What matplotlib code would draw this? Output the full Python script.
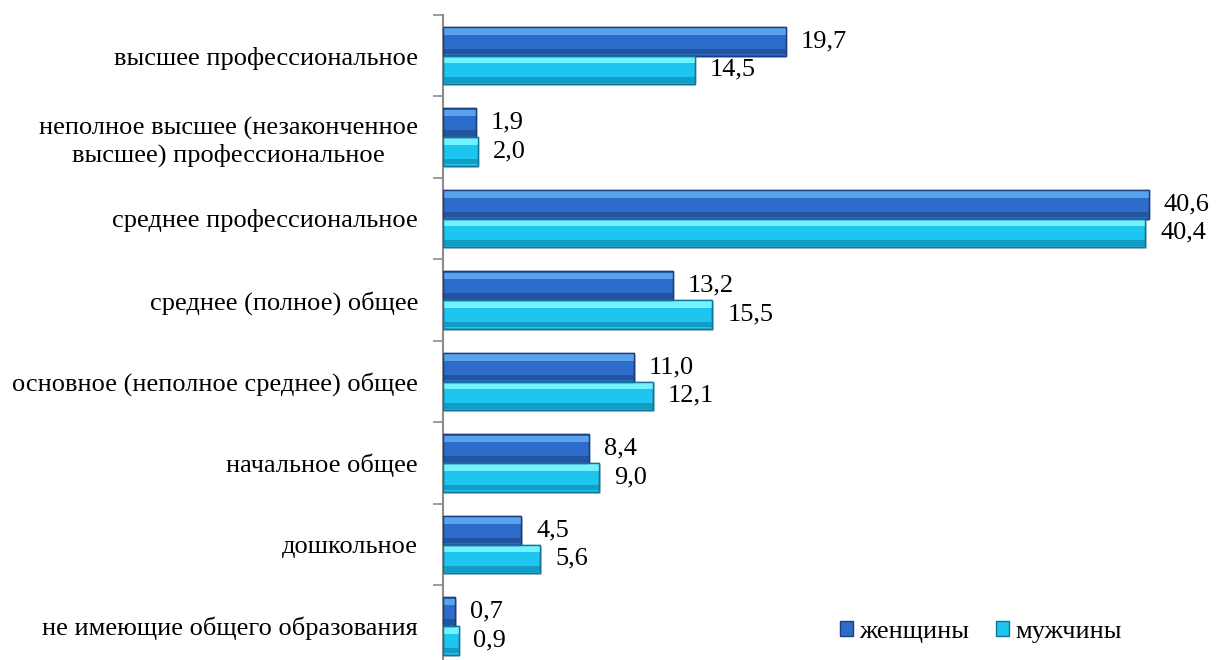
import matplotlib
matplotlib.use('Agg')
import matplotlib.pyplot as plt
from matplotlib.patches import Patch
import numpy as np

# Data
categories = [
    'высшее профессиональное',
    'неполное высшее (незаконченное\nвысшее) профессиональное',
    'среднее профессиональное',
    'среднее (полное) общее',
    'основное (неполное среднее) общее',
    'начальное общее',
    'дошкольное',
    'не имеющие общего образования',
]
women = [19.7, 1.9, 40.6, 13.2, 11.0, 8.4, 4.5, 0.7]
men = [14.5, 2.0, 40.4, 15.5, 12.1, 9.0, 5.6, 0.9]
series_names = ['женщины', 'мужчины']

plt.rcParams['font.family'] = ['Liberation Serif', 'DejaVu Serif']
FS = 19

fig = plt.figure(figsize=(12.16, 6.6), dpi=100)
ax = fig.add_axes([443 / 1216, 1 - 666.75 / 660, (1208 - 443) / 1216, (666.75 - 14.75) / 660])

y = np.arange(len(categories))
h = 0.35

# (edge, bottom shade, body, highlight)
styles = [
    ('#1b3f7c', '#22549f', '#2d6ccb', '#5aa2ec'),
    ('#127499', '#139cc6', '#1ec6ef', '#72f2ff'),
]

for vals, offs, (edge, shade, body, light) in zip([women, men], [-h / 2, h / 2], styles):
    ypos = y + offs
    # drop shadow
    ax.barh(ypos + 0.03, vals, height=h, left=0.08, color='#d9d9d9', zorder=1)
    ax.barh(ypos, vals, height=h, color=body, edgecolor=edge, linewidth=1.0, zorder=2)
    # bevel highlights
    ax.barh(ypos - h * 0.34, vals, height=h * 0.22, color=light, linewidth=0, zorder=3)
    ax.barh(ypos + h * 0.36, vals, height=h * 0.18, color=shade, linewidth=0, zorder=3)
    ax.barh(ypos, vals, height=h, color='none', edgecolor=edge, linewidth=1.0, zorder=4)
    for yy, v in zip(ypos, vals):
        ax.text(v + 0.85, yy, f'{v:.1f}'.replace('.', ','), va='center', ha='left',
                fontsize=FS, color='black')

ax.set_ylim(len(categories) - 0.5, -0.5)
ax.set_xlim(0, 44)

ax.set_yticks(y)
ax.set_yticklabels(categories, fontsize=FS, multialignment='center')
ax.set_yticks(np.arange(-0.5, len(categories), 1), minor=True)
ax.tick_params(axis='y', which='major', length=0, pad=18)
ax.tick_params(axis='y', which='minor', length=7, width=1.2, color='#8c8c8c', direction='out')
ax.set_xticks([])

for s in ['top', 'right', 'bottom']:
    ax.spines[s].set_visible(False)
ax.spines['left'].set_color('#8c8c8c')
ax.spines['left'].set_linewidth(1.5)

handles = [Patch(facecolor=styles[0][2], edgecolor=styles[0][0]),
           Patch(facecolor=styles[1][2], edgecolor=styles[1][0])]
fig.legend(handles, series_names, loc='center', bbox_to_anchor=(981 / 1216, 1 - 632 / 660),
           ncol=2, frameon=False, fontsize=FS, handlelength=0.5, handleheight=0.5,
           handletextpad=0.25, columnspacing=1.0, borderpad=0)

plt.savefig('out.png', dpi=100)
plt.close()
